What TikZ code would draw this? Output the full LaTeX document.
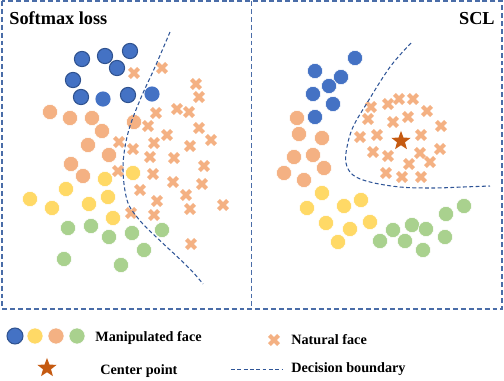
\documentclass[tikz,border=0pt]{standalone}
\usepackage{fontspec}
\setmainfont{Liberation Serif}
\usepackage{tikz}
\usepackage{xcolor}
\usetikzlibrary{arrows.meta,positioning,calc,shapes.geometric}
\definecolor{mfblue}{HTML}{4472C4}
\definecolor{mfbluedark}{HTML}{2F528F}
\definecolor{mfyellow}{HTML}{FFD966}
\definecolor{mforange}{HTML}{F4B183}
\definecolor{mfgreen}{HTML}{A9D18E}
\definecolor{nfcross}{HTML}{F4B183}
\definecolor{ctstar}{HTML}{C55A11}
\definecolor{bndblue}{HTML}{2F5597}
\definecolor{panelblue}{HTML}{4A6DA8}

\begin{document}
\begin{tikzpicture}[x=0.02cm, y=-0.02cm,
  panelbox/.style={draw=panelblue, line width=0.7pt, dash pattern=on 2.8pt off 1.7pt},
  boundary/.style={draw=bndblue, line width=0.6pt, dash pattern=on 2.2pt off 1.4pt},
  dotblue/.style={fill=mfblue, draw=mfbluedark, line width=0.6pt},
  dotflat/.style={draw=white, line width=0.3pt},
  natural/.style={draw=nfcross, line width=2.4pt},
  centerstar/.style={star, star points=5, star point ratio=2.4, fill=ctstar, inner sep=0pt, minimum size=11.5pt},
  titletext/.style={font=\bfseries\fontsize{10.4}{12}\selectfont, inner sep=0pt},
  legtext/.style={font=\bfseries\fontsize{8.1}{10}\selectfont, inner sep=0pt, anchor=base west},
]
\useasboundingbox (0,0) rectangle (504,380);

% panels
\draw[panelbox] (2,1) rectangle (502,309);
\draw[panelbox] (251.5,1) -- (251.5,309);
\node[titletext, anchor=base west] (ttlsoft) at (9,24) {Softmax loss};
\node[titletext, anchor=base east] (ttlscl) at (495,24) {SCL};

% ---------- left panel: softmax loss ----------
\foreach \x/\y in {82/59,105/56,130/51,117/68,73/80,81/97,128/95}
  \draw[dotblue] (\x,\y) circle (7.6);
\foreach \x/\y in {103/99,152/94}
  \fill[mfblue] (\x,\y) circle (7.6);
\foreach \x/\y in {50/112,70/118,92/118,134/122,102/131,88/145,109/155,71/164,83/176}
  \draw[dotflat, fill=mforange] (\x,\y) circle (7.6);
\foreach \x/\y in {105/179,133/173,66/189,30/199,52/208,89/204,108/197,113/218}
  \draw[dotflat, fill=mfyellow] (\x,\y) circle (7.6);
\foreach \x/\y in {68/228,91/226,109/237,132/233,162/230,144/250,64/259,121/265}
  \draw[dotflat, fill=mfgreen] (\x,\y) circle (7.6);
\foreach \x/\y in {134/73,162/68,196/84,199/97,156/113,177/109,189/112,148/126,
                   167/135,199/128,211/140,119/142,133/149,154/143,190/146,150/157,
                   174/158,204/166,118/171,153/174,173/182,202/184,140/190,186/195,
                   157/201,223/205,190/209,131/213,154/215,191/244}
  \draw[natural] (\x-4.6,\y-4.6) -- (\x+4.6,\y+4.6) (\x-4.6,\y+4.6) -- (\x+4.6,\y-4.6);
\draw[boundary] plot[smooth, tension=0.6] coordinates {(170,32) (155,67) (140,100) (128,133)
  (123,167) (127,200) (137,217) (152,233) (188,267) (203,284)};

% ---------- right panel: SCL ----------
\foreach \x/\y in {355/58,315/71,341/77,329/86,313/94,333/104,315/117}
  \draw[dotflat, fill=mfblue] (\x,\y) circle (7.6);
\foreach \x/\y in {297/118,299/134,322/138,294/157,313/155,324/168,284/173,304/180}
  \draw[dotflat, fill=mforange] (\x,\y) circle (7.6);
\foreach \x/\y in {322/193,307/208,344/206,361/200,326/223,350/229,370/222,338/242}
  \draw[dotflat, fill=mfyellow] (\x,\y) circle (7.6);
\foreach \x/\y in {393/230,412/225,426/229,446/214,464/206,380/241,405/241,445/237,423/250}
  \draw[dotflat, fill=mfgreen] (\x,\y) circle (7.6);
\foreach \x/\y in {371/107,388/104,399/99,413/99,427/111,368/119,393/122,408/117,
                   441/126,360/137,377/135,421/135,373/152,388/156,420/153,440/149,
                   430/162,409/164,386/173,402/177,421/177}
  \draw[natural] (\x-4.6,\y-4.6) -- (\x+4.6,\y+4.6) (\x-4.6,\y+4.6) -- (\x+4.6,\y-4.6);
\node[centerstar] (center) at (401,141) {};
\draw[boundary] plot[smooth, tension=0.6] coordinates {(411,43) (390,67) (367,103) (353,127)
  (347,147) (346,163) (353,175) (370,182) (400,187) (433,188) (463,187) (490,186)};

% ---------- legend ----------
\draw[dotblue] (15,336) circle (8);
\draw[dotflat, fill=mfyellow] (35,336) circle (8);
\draw[dotflat, fill=mforange] (56,336) circle (8);
\draw[dotflat, fill=mfgreen] (77,336) circle (8);
\node[legtext] (lgmanip) at (95,341) {Manipulated face};
\draw[natural] (274-4.6,340-4.6) -- (274+4.6,340+4.6) (274-4.6,340+4.6) -- (274+4.6,340-4.6);
\node[legtext] (lgnat) at (291,344) {Natural face};
\node[centerstar] (lgstar) at (47,368) {};
\node[legtext] (lgcenter) at (100,374) {Center point};
\coordinate (lgbndA) at (231,369);
\coordinate (lgbndB) at (283,369);
\draw[boundary, line width=0.5pt] (lgbndA) -- (lgbndB);
\node[legtext] (lgbnd) at (291,372) {Decision boundary};
\end{tikzpicture}
\end{document}
